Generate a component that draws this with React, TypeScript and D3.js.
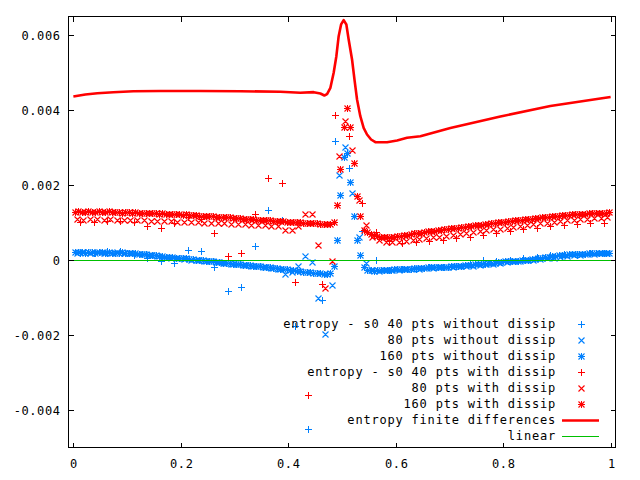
import React from 'react';
import * as d3 from 'd3';

const W = 640;
const H = 480;

const BLUE = '#0080ff';
const RED = '#ff0000';
const GREEN = '#00c000';

const X_TICKS = [0, 0.2, 0.4, 0.6, 0.8, 1];
const X_TICK_LABELS = ['0', '0.2', '0.4', '0.6', '0.8', '1'];
const Y_TICKS = [-0.004, -0.002, 0, 0.002, 0.004, 0.006];
const Y_TICK_LABELS = ['-0.004', '-0.002', '0', '0.002', '0.004', '0.006'];

// values in units of 1e-5, cell-centred grids
const BLUE_40 = [19, 19, 23, 23, 12, 5, -4, -7, 27, 24, -19, -82, -71, 38, 134, 107, -175, -450, -106, 316, 245, 76, 1, -26, -25, -23, -20, -18, -15, -11, -1, -4, 1, 5, 9, 12, 15, 17, 18, 19];
const RED_40 = [101, 101, 103, 103, 100, 91, 85, 97, 113, 110, 72, 11, 19, 121, 219, 205, -59, -360, -64, 385, 331, 152, 74, 50, 45, 47, 50, 52, 59, 61, 67, 72, 76, 83, 85, 90, 94, 96, 99, 99];

const BLUE_80 = [
  19, 20, 19, 20, 18, 19, 20, 18, 19, 17,
  15, 13, 10, 8, 6, 5, 3, 1, -1, -2,
  -4, -6, -8, -10, -12, -13, -15, -17, -19, -21,
  -23, -37, -33, -15, 10, -5,
  -101, -197, -66, 225, 301, 177, 60, -8, -27,
  -29, -28, -27, -26, -25, -24, -23, -22, -21, -20,
  -19, -18, -17, -16, -15, -13, -12, -10, -8, -6,
  -4, -3, -1, 0, 2, 4, 6, 8, 10, 12, 14, 15, 17, 18, 19,
];
const RED_80 = [
  108, 107, 109, 108, 107, 108, 106, 107, 106, 105,
  105, 104, 104, 103, 103, 102, 101, 101, 100, 99,
  99, 98, 97, 96, 96, 95, 94, 93, 92, 91,
  89, 80, 80, 90, 121, 121,
  39, -75, -4, 278, 370, 294, 160, 94,
  62, 52, 49, 48, 49, 51, 53, 55, 58, 60, 62,
  65, 67, 70, 72, 75, 77, 79, 81, 83, 85,
  88, 90, 92, 95, 97, 99, 101, 103, 105, 107, 109, 110, 111, 112, 113,
];

const BLUE_160 = [
  20, 21, 20, 19, 20, 21, 19, 20, 20, 19, 20, 19, 19, 18, 20, 19, 18, 19, 18, 17,
  16, 15, 14, 13, 12, 11,
  10, 9, 8, 7, 6, 5, 5, 4, 3, 2,
  1, 0, -1, -2, -3, -4, -5,
  -6, -7, -8, -9, -10, -11, -12, -13, -14, -14, -15, -16, -17,
  -18, -19, -20, -21, -22, -23, -24, -25, -27,
  -28, -29, -30, -31, -32, -33, -34, -35, -36, -37, -38, -36,
  -15, 54, 172, 275, 285, 208, 118, 52, 12, -20,
  -26, -28, -29, -28, -27, -27, -26, -26, -25,
  -25, -24, -24, -23, -23, -22, -22, -21, -21, -20,
  -20, -20, -19, -19, -18, -18, -17, -16, -16, -15,
  -14, -13, -13, -12, -11, -11, -10, -9, -8, -7,
  -6, -5, -4, -4, -3, -2, -2, -1, 0, 1,
  2, 3, 5, 6, 7, 9, 10, 11, 12, 13,
  14, 15, 15, 16, 16, 17, 17, 18, 18, 18, 19, 19, 19, 19,
];
const RED_160 = [
  128, 129, 127, 128, 130, 128, 127, 129, 128, 127, 129, 128, 127, 128, 126, 128, 127, 126, 127, 126,
  125, 126, 124, 125, 124, 123, 124, 122, 123, 122, 121, 122, 120, 121, 120, 119,
  119, 118, 118, 117, 117, 116, 115, 115, 114, 113, 113, 112, 111, 111, 110, 109, 108, 108, 107, 106,
  106, 105, 105, 104, 104, 103, 103, 102, 101, 101, 100, 100, 99, 99, 98, 97, 97, 96, 96, 95, 95,
  100, 145, 241, 355, 405, 354, 257, 171, 118, 80,
  74, 69, 66, 64, 62, 61, 61, 61, 62,
  63, 64, 66, 67, 69, 71, 72, 73, 75, 76,
  77, 78, 79, 80, 82, 83, 84, 85, 86, 87,
  88, 89, 91, 92, 93, 94, 95, 96, 97, 99,
  100, 101, 102, 103, 104, 105, 106, 107, 108, 109,
  110, 111, 112, 113, 114, 115, 116, 117, 118, 119,
  120, 120, 121, 122, 122, 123, 123, 124, 124, 125, 125, 126, 126, 127,
];

// entropy finite differences curve
const FD_X = [0, 0.0223, 0.0447, 0.0745, 0.1117, 0.162, 0.2364, 0.3108, 0.3853, 0.4225, 0.4473, 0.4597, 0.4672, 0.4722, 0.4784, 0.4845, 0.4895, 0.4938, 0.4983, 0.5031, 0.5081, 0.5124, 0.5187, 0.5236, 0.528, 0.5341, 0.5403, 0.5466, 0.5541, 0.5621, 0.5839, 0.6025, 0.6211, 0.6459, 0.7017, 0.7948, 0.8878, 0.9809, 1.0];
const FD_Y = [0.004355, 0.004408, 0.004443, 0.004469, 0.004496, 0.0045, 0.0045, 0.004496, 0.00448, 0.004453, 0.00447, 0.004435, 0.004381, 0.004416, 0.004587, 0.004987, 0.005429, 0.005963, 0.006275, 0.006389, 0.006275, 0.005875, 0.005341, 0.004763, 0.004275, 0.003829, 0.00352, 0.003341, 0.003208, 0.003136, 0.003136, 0.003181, 0.003253, 0.003296, 0.003515, 0.003821, 0.004101, 0.004301, 0.004341];

const LIN_X = [0, 1];
const LIN_Y = [0, 0];

const UNIT = 1e-5;

type Shape = 'plus' | 'cross' | 'star';

const SERIES: { name: string; vals: number[]; color: string; shape: Shape }[] = [
  { name: 'entropy - s0 40 pts without dissip', vals: BLUE_40, color: BLUE, shape: 'plus' },
  { name: '80 pts without dissip', vals: BLUE_80, color: BLUE, shape: 'cross' },
  { name: '160 pts without dissip', vals: BLUE_160, color: BLUE, shape: 'star' },
  { name: 'entropy - s0 40 pts with dissip', vals: RED_40, color: RED, shape: 'plus' },
  { name: '80 pts with dissip', vals: RED_80, color: RED, shape: 'cross' },
  { name: '160 pts with dissip', vals: RED_160, color: RED, shape: 'star' },
];

const FONT = "'DejaVu Sans Mono', 'Liberation Mono', monospace";

function plusPath(cx: number, cy: number, r = 3.5): string {
  const px = Math.round(cx) + 0.5;
  const py = Math.round(cy) + 0.5;
  return `M${px - r},${py}H${px + r}M${px},${py - r}V${py + r}`;
}
function crossPath(cx: number, cy: number, r = 3): string {
  const px = Math.round(cx) + 0.5;
  const py = Math.round(cy) + 0.5;
  return `M${px - r},${py - r}L${px + r},${py + r}M${px - r},${py + r}L${px + r},${py - r}`;
}

function Marker({ pts, shape, color }: { pts: [number, number][]; shape: Shape; color: string }) {
  const plus = shape !== 'cross' ? pts.map((p) => plusPath(p[0], p[1])).join('') : '';
  const cross = shape !== 'plus' ? pts.map((p) => crossPath(p[0], p[1])).join('') : '';
  return (
    <g>
      {plus && <path d={plus} stroke={color} strokeWidth={1} fill="none" shapeRendering="crispEdges" />}
      {cross && <path d={cross} stroke={color} strokeWidth={1.1} fill="none" />}
    </g>
  );
}

export default function App() {
  React.useEffect(() => {
    document.body.style.margin = '0';
  }, []);

  const x = d3.scaleLinear().domain([-0.01, 1.01]).range([68, 616]);
  const y = d3.scaleLinear().domain([-0.005, 0.0065]).range([447.5, 16]);

  const left = 68.5, right = 615.5, top = 16.5, bottom = 447.5;
  const tickLen = 5;

  const line = d3.line<[number, number]>().x((d) => x(d[0])).y((d) => y(d[1]));
  const fdPath = line(FD_X.map((v, i) => [v, FD_Y[i]] as [number, number])) || '';
  const crispLine = d3
    .line<[number, number]>()
    .x((d) => Math.round(x(d[0])) + 0.5)
    .y((d) => Math.round(y(d[1])) + 0.5);
  const linPath = crispLine(LIN_X.map((v, i) => [v, LIN_Y[i]] as [number, number])) || '';

  const legendX = 556;
  const legendY0 = 324;
  const legendStep = 15.95;
  const sampleX = 581;

  return (
    <svg width={W} height={H} style={{ position: 'absolute', left: 0, top: 0, display: 'block', background: '#fff' }}>
      <rect x={0} y={0} width={W} height={H} fill="#fff" />
      {SERIES.map((s, si) => {
        const n = s.vals.length;
        const pts = s.vals.map((v, i) => [x((i + 0.5) / n), y(v * UNIT)] as [number, number]);
        return <Marker key={si} pts={pts} shape={s.shape} color={s.color} />;
      })}
      <path d={fdPath} stroke={RED} strokeWidth={2.6} fill="none" strokeLinejoin="round" />
      <path d={linPath} stroke={GREEN} strokeWidth={1} fill="none" />

      <rect x={left} y={top} width={right - left} height={bottom - top} fill="none" stroke="#000" strokeWidth={1} shapeRendering="crispEdges" />
      {X_TICKS.map((t, i) => {
        const px = Math.round(x(t)) + 0.5;
        return (
          <g key={'xt' + i}>
            <line x1={px} x2={px} y1={bottom} y2={bottom - tickLen} stroke="#000" shapeRendering="crispEdges" />
            <line x1={px} x2={px} y1={top} y2={top + tickLen} stroke="#000" shapeRendering="crispEdges" />
            <text x={px + 0.3} y={467.5} textAnchor="middle" fontFamily={FONT} fontSize={12} letterSpacing={0.6} fill="#000">
              {X_TICK_LABELS[i]}
            </text>
          </g>
        );
      })}
      {Y_TICKS.map((t, i) => {
        const py = Math.round(y(t)) + 0.5;
        return (
          <g key={'yt' + i}>
            <line x1={left} x2={left + tickLen} y1={py} y2={py} stroke="#000" shapeRendering="crispEdges" />
            <line x1={right} x2={right - tickLen} y1={py} y2={py} stroke="#000" shapeRendering="crispEdges" />
            <text x={60.6} y={py + 4.3} textAnchor="end" fontFamily={FONT} fontSize={12} letterSpacing={0.6} fill="#000">
              {Y_TICK_LABELS[i]}
            </text>
          </g>
        );
      })}

      {SERIES.map((s, i) => {
        const ly = legendY0 + i * legendStep;
        return (
          <g key={'lg' + i}>
            <text x={legendX} y={ly + 4.3} textAnchor="end" fontFamily={FONT} fontSize={12} letterSpacing={0.8} fill="#000">
              {s.name}
            </text>
            <Marker pts={[[sampleX, ly]]} shape={s.shape} color={s.color} />
          </g>
        );
      })}
      {[
        { name: 'entropy finite differences', color: RED, w: 2.6 },
        { name: 'linear', color: GREEN, w: 1 },
      ].map((l, j) => {
        const ly = legendY0 + (6 + j) * legendStep;
        const py = Math.round(ly) + 0.5;
        return (
          <g key={'ll' + j}>
            <text x={legendX} y={ly + 4.3} textAnchor="end" fontFamily={FONT} fontSize={12} letterSpacing={0.8} fill="#000">
              {l.name}
            </text>
            <line x1={562} x2={599} y1={py} y2={py} stroke={l.color} strokeWidth={l.w} />
          </g>
        );
      })}
    </svg>
  );
}
